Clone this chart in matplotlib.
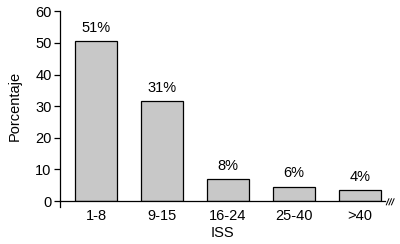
import matplotlib
matplotlib.use("Agg")
import matplotlib.pyplot as plt
from matplotlib.lines import Line2D

categories = ["1-8", "9-15", "16-24", "25-40", ">40"]
values = [50.5, 31.6, 6.9, 4.6, 3.4]
labels = ["51%", "31%", "8%", "6%", "4%"]
yticks = [0, 10, 20, 30, 40, 50, 60]

FS = 10.5
plt.rcParams['font.family'] = ['Liberation Sans', 'DejaVu Sans']
fig = plt.figure(figsize=(4.0, 2.44), dpi=100)
ax = fig.add_axes([0.15, 0.176, 0.8125, 0.778])

x = list(range(len(categories)))
ax.bar(x, values, width=0.636, color='#c8c8c8', edgecolor='black', linewidth=0.9, zorder=2)
for xi, v, lab in zip(x, values, labels):
    ax.annotate(lab, (xi, v), xytext=(0, 4.5), textcoords='offset points',
                ha='center', va='bottom', fontsize=FS)

ax.set_xlim(-0.545, 4.38)
ax.set_ylim(0, 60)
ax.set_yticks(yticks)
ax.set_xticks(x)
ax.set_xticklabels(categories)
ax.tick_params(axis='x', length=0, pad=6, labelsize=FS)
ax.tick_params(axis='y', length=4, width=0.9, pad=2, labelsize=FS)
ax.spines['top'].set_visible(False)
ax.spines['right'].set_visible(False)
for s in ('left', 'bottom'):
    ax.spines[s].set_linewidth(0.9)
ax.set_ylabel('Porcentaje', fontsize=FS, labelpad=10)
ax.set_xlabel('ISS', fontsize=FS, labelpad=2)

# small extension of y axis below zero
ax.add_line(Line2D([0, 0], [0, -0.03], transform=ax.transAxes, color='black',
                   linewidth=0.9, clip_on=False))
# break marks at right end of x axis
for dx in (0.008, 0.016, 0.024):
    ax.add_line(Line2D([1 + dx - 0.004, 1 + dx + 0.004], [-0.02, 0.012],
                       transform=ax.transAxes, color='black', linewidth=0.7, clip_on=False))

fig.savefig('out.png', dpi=100)
